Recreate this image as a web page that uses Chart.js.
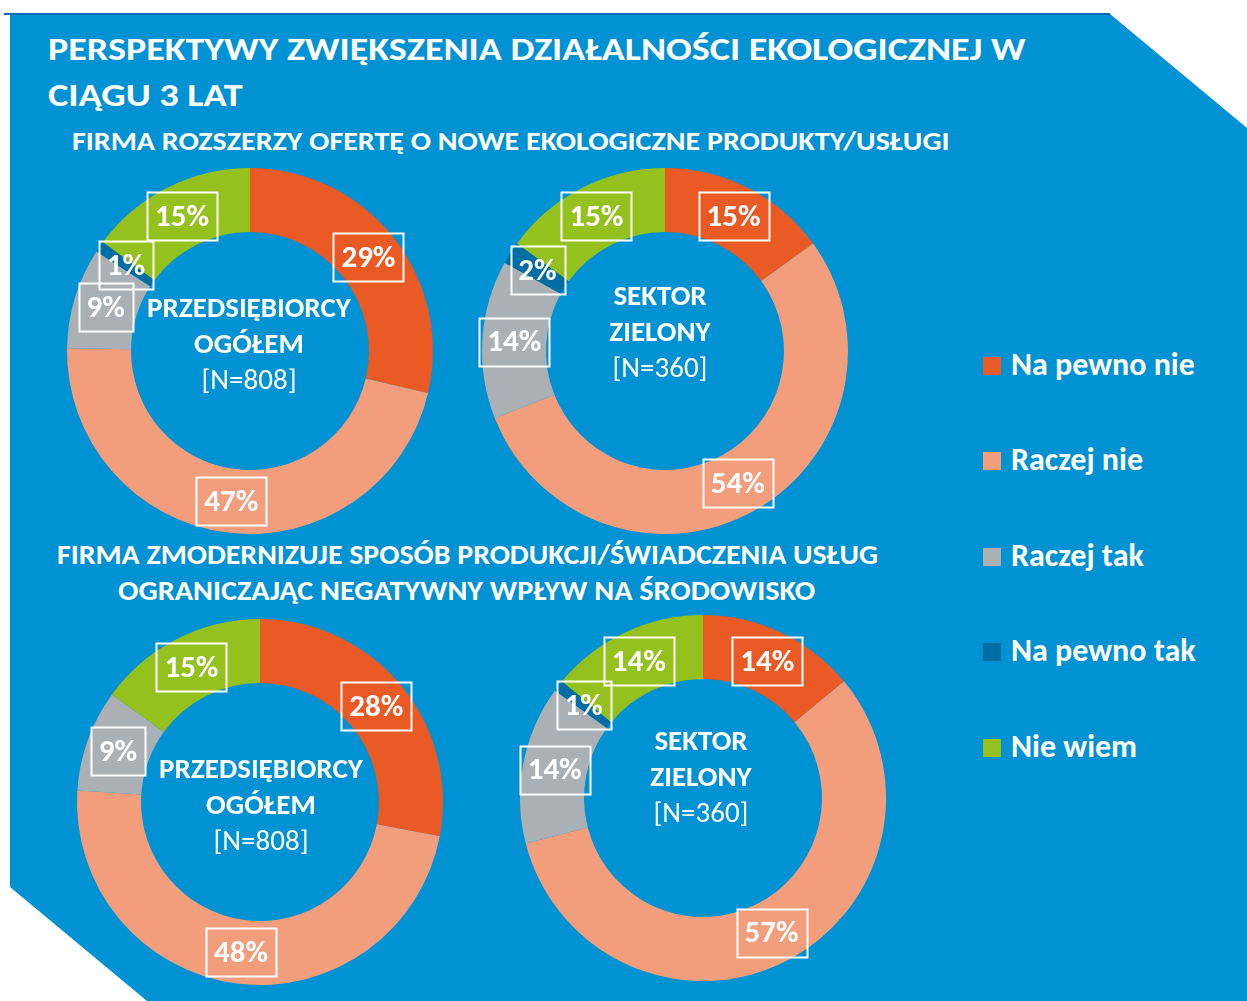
<!DOCTYPE html>
<html lang="pl">
<head>
<meta charset="utf-8">
<title>Perspektywy zwiększenia działalności ekologicznej</title>
<script src="https://cdn.jsdelivr.net/npm/chart.js@4.4.1/dist/chart.umd.min.js"></script>
<style>
  body { margin: 0; width: 1247px; height: 1001px; background: #fff; position: relative; overflow: hidden;
         font-family: Carlito, Lato, sans-serif; color: #fff; }
  .panel { position: absolute; left: 0; top: 0; width: 1247px; height: 1001px; background: #0092D3;
           clip-path: polygon(10px 14px, 1110px 14px, 1247px 128px, 1247px 1001px, 147px 1001px, 10px 887px); }
  .topline { position: absolute; left: 4px; top: 13px; width: 1106px; height: 2px; background: #0B69B3; }
  .txt { position: absolute; white-space: nowrap; font-weight: 700; line-height: 1; transform-origin: left center; }
  canvas.donut { position: absolute; }
  .centre { position: absolute; text-align: center; font-weight: 700; font-size: 29px; line-height: 36px;
            white-space: nowrap; transform: translateX(-50%); }
  .centre .n { font-weight: 400; }
  .legend { position: absolute; left: 983px; top: 0; }
  .legend .item { position: absolute; left: 0; white-space: nowrap; font-weight: 700; font-size: 32px; line-height: 1; }
  .legend .sw { position: absolute; left: 0; width: 18px; height: 18px; }
  .legend .lab { position: absolute; left: 28px; }
</style>
</head>
<body>
<div class="panel"></div>
<div class="topline"></div>

<div class="txt" data-x="48" data-y="49" data-w="977" style="font-size:33px">PERSPEKTYWY ZWIĘKSZENIA DZIAŁALNOŚCI EKOLOGICZNEJ W</div>
<div class="txt" data-x="48" data-y="95" data-w="195" style="font-size:33px">CIĄGU 3 LAT</div>
<div class="txt" data-x="72" data-y="141" data-w="878" style="font-size:26px">FIRMA ROZSZERZY OFERTĘ O NOWE EKOLOGICZNE PRODUKTY/USŁUGI</div>
<div class="txt" data-x="57" data-y="555" data-w="821" style="font-size:28px">FIRMA ZMODERNIZUJE SPOSÓB PRODUKCJI/ŚWIADCZENIA USŁUG</div>
<div class="txt" data-x="118" data-y="591" data-w="697" style="font-size:28px">OGRANICZAJĄC NEGATYWNY WPŁYW NA ŚRODOWISKO</div>

<canvas class="donut" id="d1" width="420" height="420"></canvas>
<canvas class="donut" id="d2" width="420" height="420"></canvas>
<canvas class="donut" id="d3" width="420" height="420"></canvas>
<canvas class="donut" id="d4" width="420" height="420"></canvas>

<div class="centre" style="left:249px; top:289px">PRZEDSIĘBIORCY<br>OGÓŁEM<br><span class="n">[N=808]</span></div>
<div class="centre" style="left:660px; top:277px">SEKTOR<br>ZIELONY<br><span class="n">[N=360]</span></div>
<div class="centre" style="left:261px; top:750px">PRZEDSIĘBIORCY<br>OGÓŁEM<br><span class="n">[N=808]</span></div>
<div class="centre" style="left:701px; top:722px">SEKTOR<br>ZIELONY<br><span class="n">[N=360]</span></div>

<div class="legend" id="legend"></div>

<script>
const categories = ['Na pewno nie', 'Raczej nie', 'Raczej tak', 'Na pewno tak', 'Nie wiem'];
const colors = ['#E95A24', '#F29E7D', '#AAB0B4', '#006DA3', '#95C11F'];

// odsetki odpowiedzi, kolejność jak w categories
const rozszerzenieOgolem = [29, 47, 9, 1, 15];
const rozszerzenieZielony = [15, 54, 14, 2, 15];
const modernizacjaOgolem = [28, 48, 9, 0, 15];
const modernizacjaZielony = [14, 57, 14, 1, 14];

const FONT = 'Carlito, Lato, sans-serif';

// ramka z wartością w środku każdego wycinka
const boxLabels = {
  id: 'boxLabels',
  afterDatasetsDraw(chart) {
    const ctx = chart.ctx;
    const values = chart.data.datasets[0].data;
    const meta = chart.getDatasetMeta(0);
    ctx.save();
    ctx.font = 'bold 31px ' + FONT;
    ctx.textAlign = 'center';
    ctx.textBaseline = 'middle';
    meta.data.forEach((arc, i) => {
      if (!values[i]) return;
      const pos = arc.tooltipPosition();
      const text = values[i] + '%';
      const w = Math.round(ctx.measureText(text).width) + 16;
      const h = 48;
      ctx.strokeStyle = '#fff';
      ctx.lineWidth = 2;
      ctx.strokeRect(Math.round(pos.x - w / 2) + 0.5, Math.round(pos.y - h / 2) + 0.5, w, h);
      ctx.fillStyle = '#fff';
      ctx.fillText(text, pos.x, pos.y + 2);
    });
    ctx.restore();
  }
};

function makeDonut(id, data, cx, cy) {
  const canvas = document.getElementById(id);
  canvas.style.left = (cx - 210) + 'px';
  canvas.style.top = (cy - 210) + 'px';
  return new Chart(canvas, {
    type: 'doughnut',
    data: {
      labels: categories,
      datasets: [{
        data: data,
        backgroundColor: colors,
        borderWidth: 0,
        hoverOffset: 0
      }]
    },
    options: {
      responsive: false,
      animation: false,
      cutout: '65%',
      layout: { padding: 27 },
      plugins: {
        legend: { display: false },
        tooltip: { enabled: false }
      }
    },
    plugins: [boxLabels]
  });
}

function fitTexts() {
  document.querySelectorAll('.txt').forEach(el => {
    el.style.left = el.dataset.x + 'px';
    el.style.top = (el.dataset.y - el.offsetHeight / 2) + 'px';
    const k = el.dataset.w / el.offsetWidth;
    el.style.transform = 'scaleX(' + k + ')';
  });
}

function buildLegend() {
  const legend = document.getElementById('legend');
  const rowY = [366, 461, 557, 652, 748];
  categories.forEach((name, i) => {
    const item = document.createElement('div');
    item.className = 'item';
    item.style.top = rowY[i] + 'px';
    item.innerHTML = '<div class="sw" style="top:-9px; background:' + colors[i] + '"></div>' +
                     '<div class="lab" style="top:-17px">' + name + '</div>';
    legend.appendChild(item);
  });
}

document.fonts.ready.then(() => {
  fitTexts();
  buildLegend();
  makeDonut('d1', rozszerzenieOgolem, 250, 351);
  makeDonut('d2', rozszerzenieZielony, 665, 351);
  makeDonut('d3', modernizacjaOgolem, 260, 802);
  makeDonut('d4', modernizacjaZielony, 703, 798);
});
</script>
</body>
</html>
